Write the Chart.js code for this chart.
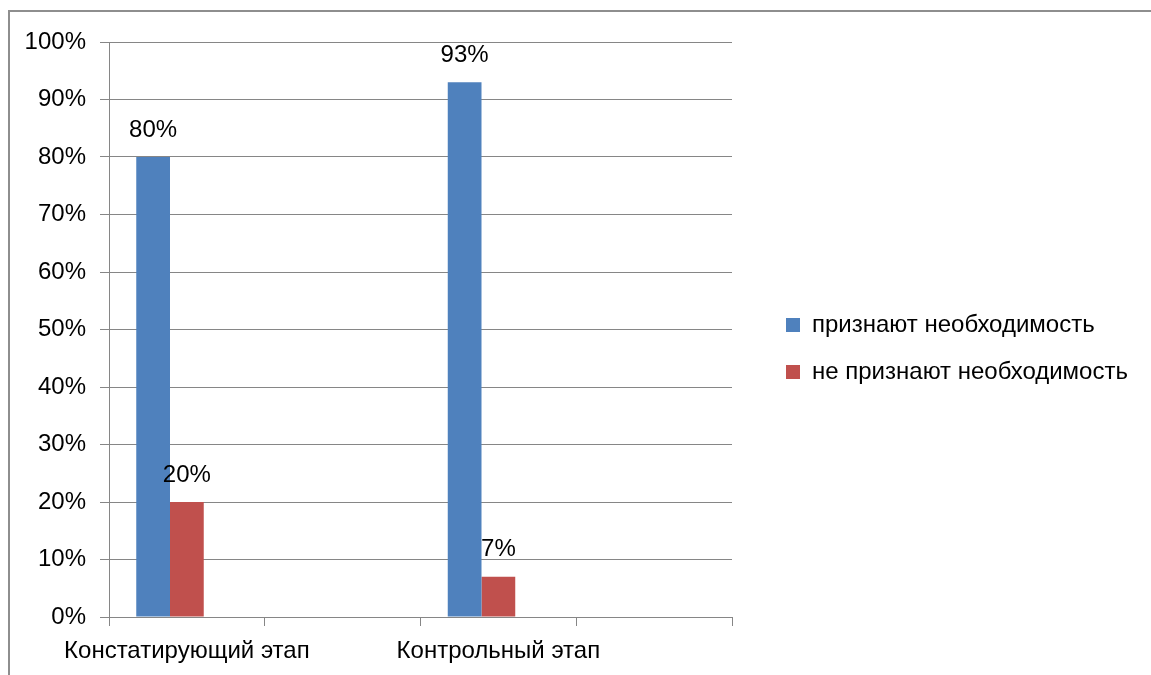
<!DOCTYPE html>
<html lang="ru">
<head>
<meta charset="utf-8">
<title>Признание необходимости</title>
<script src="https://cdn.jsdelivr.net/npm/chart.js@4.4.1/dist/chart.umd.min.js"></script>
<style>
  html, body { margin: 0; padding: 0; background: #fff; }
  #wrap { width: 1151px; height: 675px; position: relative; }
</style>
</head>
<body>
<div id="wrap"><canvas id="chart"></canvas></div>
<script>
const CATEGORIES = ['Констатирующий этап', '', 'Контрольный этап', ''];
const SERIES_NAMES = ['признают необходимость', 'не признают необходимость', ''];
const ACCEPT = [80, null, 93, null];
const REJECT = [20, null, 7, null];
const EMPTY = [null, null, null, null];

const BLUE = '#4f81bd';
const RED = '#c0504d';
const GRID = '#868686';
const FONT = '"Liberation Sans", Arial, sans-serif';

const LEGEND_WIDTH = 419;   // 1151 - plot right edge
const LEGEND_DX = 31;
const LEGEND_DY = 19;

Chart.defaults.font.family = FONT;
Chart.defaults.font.size = 24;
Chart.defaults.color = '#000';

// white background + grey outer frame like the office chart object
const frame = {
  id: 'frame',
  beforeDraw(chart) {
    const { ctx } = chart;
    ctx.save();
    ctx.fillStyle = '#fff';
    ctx.fillRect(0, 0, chart.width, chart.height);
    ctx.restore();
  },
  afterDraw(chart) {
    const { ctx } = chart;
    ctx.save();
    ctx.strokeStyle = '#8e8e8e';
    ctx.lineWidth = 2;
    ctx.strokeRect(9, 11, chart.width + 40, chart.height + 40);
    ctx.restore();
  },
};

// percent labels above every bar
const valueLabels = {
  id: 'valueLabels',
  afterDatasetsDraw(chart) {
    const { ctx } = chart;
    ctx.save();
    ctx.font = '24px ' + FONT;
    ctx.fillStyle = '#000';
    ctx.textAlign = 'center';
    ctx.textBaseline = 'middle';
    chart.data.datasets.forEach((ds, i) => {
      chart.getDatasetMeta(i).data.forEach((bar, j) => {
        const v = ds.data[j];
        if (v == null) return;
        ctx.fillText(v + '%', bar.x, bar.y - 27);
      });
    });
    ctx.restore();
  },
};

// fixed legend width so the plot ends where it should, then nudge items
const legendPlace = {
  id: 'legendPlace',
  beforeUpdate(chart) {
    const legend = chart.legend;
    if (!legend || legend._patched) return;
    const fit = legend.fit;
    legend.fit = function () {
      fit.call(this);
      this.width = LEGEND_WIDTH;
    };
    legend._patched = true;
  },
  afterLayout(chart) {
    const l = chart.legend;
    l.left += LEGEND_DX; l.right += LEGEND_DX;
    l.top += LEGEND_DY; l.bottom += LEGEND_DY;
  },
};

const ctx = document.getElementById('chart').getContext('2d');
new Chart(ctx, {
  type: 'bar',
  data: {
    labels: CATEGORIES,
    datasets: [
      { label: SERIES_NAMES[0], data: ACCEPT, backgroundColor: BLUE },
      { label: SERIES_NAMES[1], data: REJECT, backgroundColor: RED },
      { label: SERIES_NAMES[2], data: EMPTY, backgroundColor: '#9bbb59' },
    ],
  },
  options: {
    responsive: true,
    maintainAspectRatio: false,
    animation: false,
    layout: { padding: { top: 42, left: 0, right: 0, bottom: 0 } },
    datasets: {
      bar: { categoryPercentage: 0.65, barPercentage: 1.0, borderWidth: 0 },
    },
    plugins: {
      tooltip: { enabled: false },
      legend: {
        position: 'right',
        fullSize: false,
        labels: {
          boxWidth: 14,
          boxHeight: 14,
          padding: 23,
          color: '#000',
          font: { size: 24, lineHeight: 1 },
          filter: item => item.text !== '',
        },
      },
    },
    scales: {
      x: {
        afterFit: s => { s.height = 58; },
        grid: { drawOnChartArea: false, offset: true, tickLength: 9, color: GRID },
        border: { color: GRID },
        ticks: { autoSkip: false, maxRotation: 0, padding: 11, color: '#000' },
      },
      y: {
        min: 0,
        max: 100,
        afterFit: s => { s.width = 109; },
        grid: { color: GRID, tickLength: 9 },
        border: { color: GRID },
        ticks: { stepSize: 10, padding: 14, color: '#000', callback: v => v + '%' },
      },
    },
  },
  plugins: [frame, valueLabels, legendPlace],
});
</script>
</body>
</html>
